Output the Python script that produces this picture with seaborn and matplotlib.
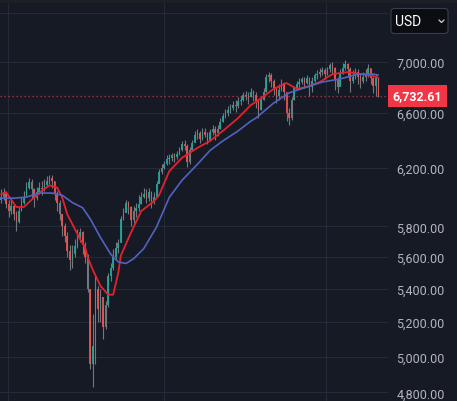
import numpy as np
import pandas as pd
import matplotlib
matplotlib.use("Agg")
import matplotlib.pyplot as plt
import seaborn as sns
from matplotlib.ticker import FixedLocator, NullLocator, FuncFormatter
from matplotlib.patches import FancyBboxPatch, Rectangle
from matplotlib.lines import Line2D

# candles (close / high / low), oldest first
closes = [
    6000, 6030, 5950, 5900, 5940, 5880, 5830, 5900, 5960, 5990,
    6060, 6100, 6050, 5990, 6030, 6060, 6050, 6080, 6110, 6130,
    6110, 6020, 5960, 5880, 5800, 5740, 5640, 5580, 5620, 5670,
    5730, 5760, 5680, 5600, 5400, 4960, 5060, 5400, 5280, 5350,
    5170, 5300, 5480, 5530, 5600, 5660, 5690, 5850, 5890, 5960,
    5930, 5840, 5900, 5920, 5950, 6000, 6020, 5990, 6030, 5970,
    6000, 6090, 6170, 6200, 6230, 6260, 6270, 6290, 6280, 6300,
    6330, 6370, 6360, 6240, 6330, 6380, 6440, 6450, 6410, 6460,
    6440, 6400, 6460, 6480, 6450, 6480, 6530, 6580, 6600, 6620,
    6640, 6660, 6650, 6690, 6700, 6740, 6730, 6720, 6760, 6740,
    6690, 6620, 6700, 6760, 6880, 6890, 6850, 6790, 6730, 6780,
    6830, 6760, 6600, 6560, 6700, 6790, 6820, 6840, 6860, 6830,
    6870, 6800, 6850, 6890, 6900, 6920, 6930, 6900, 6940, 6970,
    6950, 6860, 6800, 6900, 6950, 6980, 6940, 6850, 6880, 6920,
    6880, 6850, 6880, 6900, 6950, 6870, 6810, 6870, 6732.61]
highs = [
    6050, 6060, 6040, 5980, 5990, 5950, 5900, 5930, 6000, 6040,
    6100, 6130, 6120, 6060, 6070, 6100, 6110, 6120, 6140, 6150,
    6150, 6110, 6040, 5980, 5880, 5820, 5760, 5680, 5680, 5720,
    5780, 5790, 5770, 5700, 5620, 5400, 5250, 5480, 5420, 5400,
    5300, 5330, 5500, 5560, 5650, 5700, 5720, 5870, 5920, 5980,
    5970, 5940, 5940, 5960, 6010, 6030, 6060, 6050, 6060, 6040,
    6030, 6110, 6190, 6230, 6250, 6290, 6300, 6310, 6310, 6320,
    6350, 6390, 6400, 6370, 6350, 6400, 6470, 6480, 6470, 6490,
    6490, 6460, 6480, 6510, 6500, 6510, 6560, 6600, 6630, 6650,
    6670, 6690, 6700, 6720, 6730, 6760, 6770, 6760, 6790, 6780,
    6760, 6700, 6720, 6790, 6900, 6920, 6910, 6860, 6800, 6820,
    6860, 6840, 6760, 6640, 6720, 6810, 6850, 6870, 6880, 6880,
    6890, 6880, 6880, 6910, 6930, 6950, 6960, 6950, 6960, 6990,
    7000, 6960, 6880, 6940, 6990, 7010, 6990, 6960, 6930, 6950,
    6940, 6900, 6920, 6940, 6980, 6950, 6880, 6900, 6880]
lows = [
    5960, 5980, 5920, 5860, 5880, 5840, 5770, 5820, 5900, 5950,
    6010, 6050, 5990, 5930, 5980, 6020, 6010, 6040, 6070, 6090,
    6060, 5980, 5900, 5840, 5740, 5700, 5600, 5520, 5530, 5600,
    5660, 5700, 5620, 5560, 5380, 4930, 4830, 4960, 5200, 5200,
    5100, 5160, 5290, 5450, 5520, 5580, 5630, 5700, 5840, 5900,
    5880, 5800, 5820, 5860, 5900, 5950, 5990, 5960, 5970, 5920,
    5950, 6000, 6100, 6160, 6190, 6220, 6230, 6250, 6240, 6260,
    6290, 6320, 6330, 6210, 6230, 6330, 6400, 6410, 6380, 6400,
    6420, 6370, 6390, 6440, 6400, 6430, 6480, 6530, 6560, 6580,
    6600, 6620, 6610, 6640, 6660, 6690, 6700, 6670, 6720, 6690,
    6640, 6560, 6620, 6700, 6760, 6840, 6800, 6740, 6680, 6700,
    6770, 6700, 6540, 6510, 6550, 6700, 6780, 6800, 6820, 6790,
    6820, 6730, 6760, 6840, 6860, 6880, 6890, 6860, 6890, 6920,
    6900, 6780, 6750, 6820, 6900, 6930, 6880, 6760, 6830, 6860,
    6820, 6790, 6830, 6850, 6880, 6820, 6750, 6730, 6720]
first_open = 5980

# moving averages (candle index -> value)
fast_idx = [0, 2, 6, 9, 13, 16, 19, 22, 24, 26, 28, 31, 33, 34, 36, 39, 42, 44,
            46, 47, 51, 55, 60, 62, 66, 71, 77, 82, 87, 93, 98, 100, 107, 112,
            116, 120, 125, 130, 136, 141, 146, 148]
fast_ma = [6017, 6030, 5930, 5930, 5995, 6040, 6078, 6063, 5995, 5880, 5815,
           5716, 5664, 5600, 5520, 5420, 5366, 5366, 5500, 5610, 5760, 5902,
           5970, 6010, 6177, 6272, 6343, 6394, 6467, 6563, 6661, 6685, 6785,
           6830, 6785, 6800, 6838, 6900, 6916, 6900, 6885, 6870]
slow_idx = [0, 5, 10, 15, 20, 24, 28, 32, 35, 39, 43, 46, 49, 52, 56, 61, 66,
            71, 77, 82, 87, 93, 98, 100, 107, 113, 120, 126, 133, 140, 146, 148]
slow_ma = [5990, 5990, 5997, 6025, 6025, 6010, 5960, 5925, 5850, 5728, 5620,
           5570, 5560, 5590, 5655, 5796, 5995, 6113, 6225, 6325, 6394, 6467,
           6540, 6563, 6677, 6754, 6800, 6838, 6862, 6900, 6900, 6893]

price_ticks = [4800, 5000, 5200, 5400, 5600, 5800, 6200, 6600, 7000, 7400]
month_lines = [2.7, 63.9, 127.5]
currency = "USD"

df = pd.DataFrame({"close": closes, "high": highs, "low": lows})
df["open"] = [first_open] + closes[:-1]
df["i"] = np.arange(len(df))
df["up"] = df["close"] >= df["open"]

BG = "#161a25"
sns.set_theme(style="dark", rc={"axes.facecolor": BG, "figure.facecolor": BG,
                                "grid.color": "#262a36", "axes.edgecolor": BG})
plt.rcParams["font.family"] = ["Roboto", "DejaVu Sans"]

W, H = 457, 402
fig = plt.figure(figsize=(W / 100, H / 100), dpi=100)
ax = fig.add_axes([0, 0, 388 / W, (H - 4) / H])
ax.set_yscale("log")

# wicks + bodies
ax.vlines(df["i"], df["low"], df["high"], color="#85878f", lw=0.8, alpha=0.85, zorder=2)
body_lo = df[["open", "close"]].min(axis=1)
body_h = (df["open"] - df["close"]).abs().clip(lower=body_lo * 0.0012)
cols = np.where(df["up"], "#26a69a", "#ef5350")
ax.bar(df["i"], body_h, bottom=body_lo, width=0.62, color=cols, alpha=0.9,
       linewidth=0, zorder=3)

sns.lineplot(x=fast_idx, y=fast_ma, ax=ax, color="#e3232c", lw=1.3, zorder=4)
sns.lineplot(x=slow_idx, y=slow_ma, ax=ax, color="#5262c0", lw=1.2, zorder=4)

last = closes[-1]
ax.axhline(last, color="#f23645", lw=0.9, ls=(0, (1, 2.2)), alpha=0.85, zorder=1)

ax.set_xlim(-0.39, 151.8)
ax.set_ylim(4753, 7483)
ax.xaxis.set_major_locator(FixedLocator(month_lines))
ax.yaxis.set_major_locator(FixedLocator(price_ticks))
ax.yaxis.set_minor_locator(NullLocator())
ax.yaxis.set_major_formatter(FuncFormatter(lambda v, p: "" if v > 7200 else f"{v:,.2f}"))
ax.yaxis.tick_right()
ax.tick_params(axis="y", length=0, pad=6, labelsize=9, labelcolor="#b2b5be")
ax.tick_params(axis="x", length=0, labelbottom=False)
ax.grid(True, color="#262a36", lw=0.8)
ax.set_xlabel("")
ax.set_ylabel("")
for s in ax.spines.values():
    s.set_visible(False)

ax.annotate(f"{last:,.2f}", xy=(1, last), xycoords=("axes fraction", "data"),
            xytext=(3.5, 0), textcoords="offset points", ha="left", va="center",
            color="white", fontsize=9, fontweight="bold", annotation_clip=False,
            bbox=dict(boxstyle="square,pad=0.35", fc="#f23645", ec="none"))

# top strip
fig.patches.append(Rectangle((0, (H - 4) / H), 1, 4 / H, transform=fig.transFigure,
                             fc="#1d1f26", ec="none"))
# currency box
fig.patches.append(FancyBboxPatch((391 / W, 1 - 34.5 / H), 57 / W, 25 / H,
                                  boxstyle="round,pad=0,rounding_size=0.008",
                                  transform=fig.transFigure, fc="#0c0d12",
                                  ec="#3b3e48", lw=0.8, zorder=5))
fig.text(395 / W, 1 - 22 / H, currency, color="white", fontsize=10,
         va="center", ha="left", zorder=6)
fig.lines.append(Line2D([439 / W, 441.5 / W, 444 / W],
                        [1 - 21 / H, 1 - 23.5 / H, 1 - 21 / H],
                        transform=fig.transFigure, color="#d1d4dc", lw=0.9, zorder=6))

fig.savefig("out.png", dpi=100, facecolor=BG)
